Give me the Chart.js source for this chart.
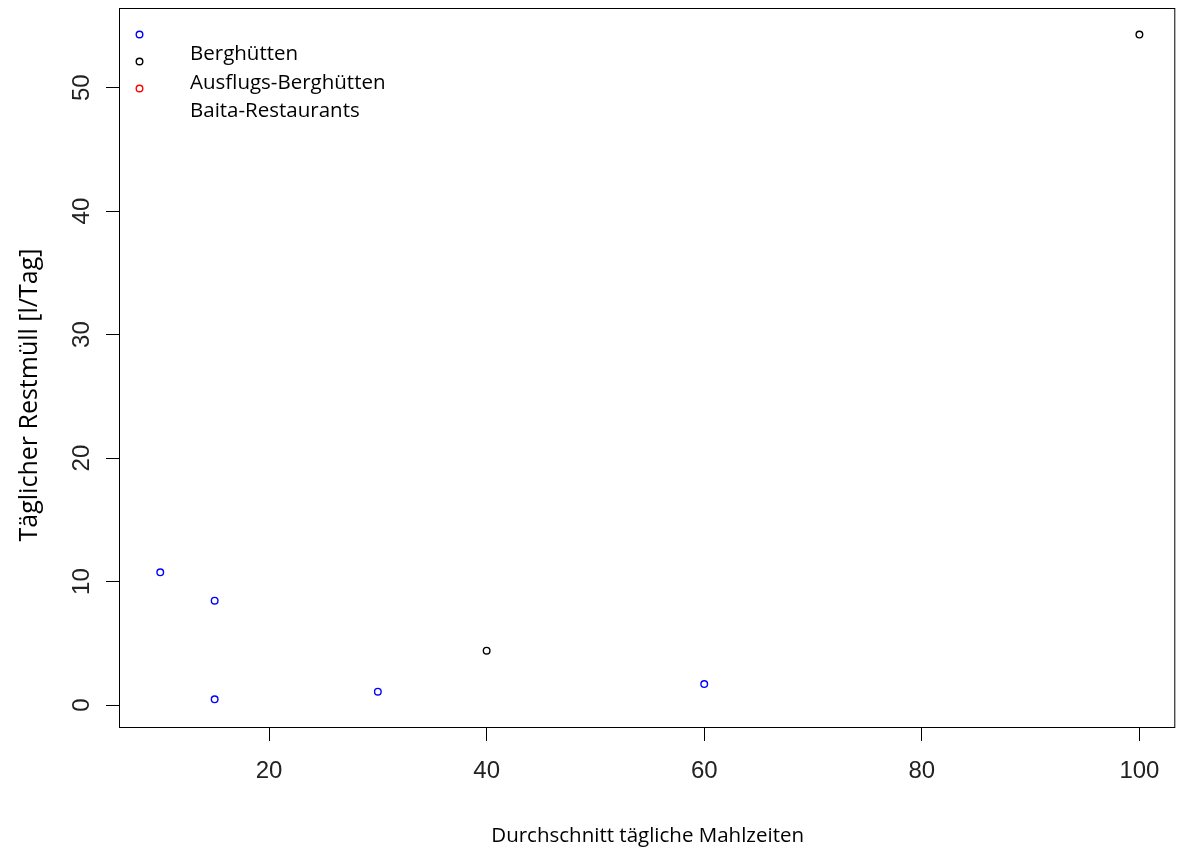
<!DOCTYPE html>
<html>
<head>
<meta charset="utf-8">
<script src="https://cdn.jsdelivr.net/npm/chart.js@4.4.0/dist/chart.umd.min.js"></script>
<style>
  body { margin: 0; background: #fff; }
  #box { width: 1180px; height: 850px; }
</style>
</head>
<body>
<div id="box"><canvas id="myChart" width="1180" height="850"></canvas></div>
<script>
// Mahlzeiten pro Tag und Restmüll pro Tag
const blauX = [10, 15, 15, 30, 60];
const blauY = [10.75, 8.45, 0.46, 1.08, 1.7];
const schwarzX = [40, 100];
const schwarzY = [4.4, 54.3];
const rotX = [];
const rotY = [];

const legendeText = ["Berghütten", "Ausflugs-Berghütten", "Baita-Restaurants"];
const legendeFarben = ["#0000ff", "#000000", "#ff0000"];

const xTicks = [20, 40, 60, 80, 100];
const yTicks = [0, 10, 20, 30, 40, 50];

const titelX = "Durchschnitt tägliche Mahlzeiten";
const titelY = "Täglicher Restmüll [l/Tag]";

const ctx = document.getElementById("myChart");

function punkte(xs, ys) {
  let res = [];
  for (let i = 0; i < xs.length; i++) {
    res.push({ x: xs[i], y: ys[i] });
  }
  return res;
}

function kreis(c, x, y, farbe) {
  c.beginPath();
  c.arc(x, y, 3.3, 0, Math.PI * 2);
  c.lineWidth = 1.4;
  c.strokeStyle = farbe;
  c.stroke();
}

// Rahmen, Beschriftungen und Legende wie im R-Plot
const rPlot = {
  id: "rPlot",
  afterDraw(chart) {
    let c = chart.ctx;
    let a = chart.chartArea;
    let sx = chart.scales.x;
    let sy = chart.scales.y;

    c.save();
    c.strokeStyle = "#000";
    c.lineWidth = 1;
    c.strokeRect(a.left - 0.5, a.top + 0.5, a.right - a.left, a.bottom - a.top);

    c.fillStyle = "#222";
    c.font = "24px 'Liberation Sans', Arial, sans-serif";
    c.textAlign = "center";
    c.textBaseline = "middle";
    xTicks.forEach(function (v) {
      c.fillText(String(v), sx.getPixelForValue(v), a.bottom + 44);
    });
    yTicks.forEach(function (v) {
      c.save();
      c.translate(a.left - 38, sy.getPixelForValue(v));
      c.rotate(-Math.PI / 2);
      c.fillText(String(v), 0, 0);
      c.restore();
    });

    c.fillStyle = "#000";
    c.font = "20.5px 'Open Sans', sans-serif";
    c.textBaseline = "alphabetic";
    c.fillText(titelX, (a.left + a.right) / 2, 842);
    c.save();
    c.font = "25px 'Open Sans', sans-serif";
    c.translate(37, 395);
    c.rotate(-Math.PI / 2);
    c.fillText(titelY, 0, 0);
    c.restore();

    // Legende oben links
    c.font = "20.5px 'Open Sans', sans-serif";
    c.textAlign = "left";
    for (let i = 0; i < legendeText.length; i++) {
      kreis(c, a.left + 19.5, a.top + 26.5 + i * 27, legendeFarben[i]);
      c.fillStyle = "#000";
      c.fillText(legendeText[i], a.left + 70, a.top + 52 + i * 28.5);
    }
    c.restore();
  }
};

function serie(xs, ys, farbe) {
  return {
    data: punkte(xs, ys),
    showLine: false,
    pointStyle: "circle",
    pointRadius: 3.3,
    pointBorderWidth: 1.4,
    pointBackgroundColor: "rgba(0,0,0,0)",
    pointBorderColor: farbe,
    pointHoverRadius: 3.3
  };
}

new Chart(ctx, {
  type: "scatter",
  data: {
    datasets: [
      serie(blauX, blauY, legendeFarben[0]),
      serie(schwarzX, schwarzY, legendeFarben[1]),
      serie(rotX, rotY, legendeFarben[2])
    ]
  },
  plugins: [rPlot],
  options: {
    responsive: false,
    animation: false,
    events: [],
    layout: { padding: { top: 8, right: 3, left: 0, bottom: 0 } },
    plugins: {
      legend: { display: false },
      tooltip: { enabled: false }
    },
    scales: {
      x: {
        type: "linear",
        min: 6.3,
        max: 103.3,
        afterBuildTicks(s) { s.ticks = xTicks.map(function (v) { return { value: v }; }); },
        afterFit(s) { s.height = 123; },
        ticks: { display: false },
        border: { display: false },
        grid: { drawOnChartArea: false, drawTicks: true, tickLength: 14, color: "#000", tickColor: "#000", lineWidth: 1 }
      },
      y: {
        type: "linear",
        min: -1.78,
        max: 56.45,
        afterBuildTicks(s) { s.ticks = yTicks.map(function (v) { return { value: v }; }); },
        afterFit(s) { s.width = 120; },
        ticks: { display: false },
        border: { display: false },
        grid: { drawOnChartArea: false, drawTicks: true, tickLength: 14, color: "#000", tickColor: "#000", lineWidth: 1 }
      }
    }
  }
});
</script>
</body>
</html>
